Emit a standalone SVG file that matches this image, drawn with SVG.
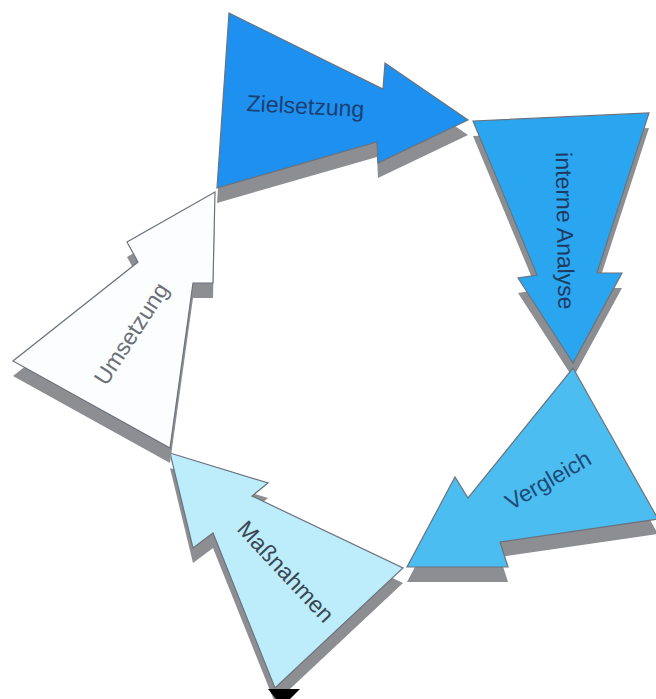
<svg xmlns="http://www.w3.org/2000/svg" xmlns:xlink="http://www.w3.org/1999/xlink" width="656" height="699" viewBox="0 0 656 699">
<style>
.shadow{fill:#8d8e92;stroke:none}
.shape{stroke:#6a737d;stroke-width:1.2;stroke-linejoin:miter}
.lbl{font-family:"Liberation Sans",Arial,sans-serif;font-size:23px;text-anchor:middle}
</style>
<defs>
<polygon id="pZiel" points="229,13 383,89 385,63 468,120 378,163 377,142 217,188"/>
<polygon id="pAna" points="473,121 649,113 597,273 622,273 573,363 518,278 537,275"/>
<polygon id="pVer" points="573,368 658,519 500,542 508,567 407,567 455,477 468,498"/>
<polygon id="pMas" points="170,453 268,483 252,496 403,568 275,688 213,533 193,548"/>
<polygon id="pUms" points="215,192 213,283 193,283 170,448 13,361 138,262 127,242"/>
</defs>
<rect width="656" height="699" fill="#ffffff"/>
<g id="interne-analyse">
<use xlink:href="#pAna" class="shadow" transform="translate(0,15)"/>
<use xlink:href="#pAna" class="shape" fill="#2aa6f0"/>
<text class="lbl" fill="#1f3a60" transform="translate(557,231) rotate(89)">interne Analyse</text>
</g>
<g id="vergleich">
<use xlink:href="#pVer" class="shadow" transform="translate(0,15)"/>
<use xlink:href="#pVer" class="shape" fill="#4cbdf0"/>
<text class="lbl" fill="#1e4a78" transform="translate(552,487) rotate(-30)">Vergleich</text>
</g>
<g id="massnahmen">
<use xlink:href="#pMas" class="shadow" transform="translate(0,15)"/>
<use xlink:href="#pMas" class="shape" fill="#bdedfa"/>
<text class="lbl" fill="#3a4652" transform="translate(280,577) rotate(47)">Maßnahmen</text>
</g>
<g id="umsetzung">
<use xlink:href="#pUms" class="shadow" transform="translate(0,15)"/>
<use xlink:href="#pUms" class="shape" fill="#fcfdfe"/>
<text class="lbl" fill="#6b7077" transform="translate(138,338) rotate(-57)">Umsetzung</text>
</g>
<g id="zielsetzung">
<use xlink:href="#pZiel" class="shadow" transform="translate(0,15)"/>
<use xlink:href="#pZiel" class="shape" fill="#1e90f0"/>
<text class="lbl" fill="#1b3f73" transform="translate(305,114) rotate(3)">Zielsetzung</text>
</g>
<g id="connectors"></g>
<polygon points="268,689 300,689 290,699 276,699" fill="#000000"/>
</svg>
